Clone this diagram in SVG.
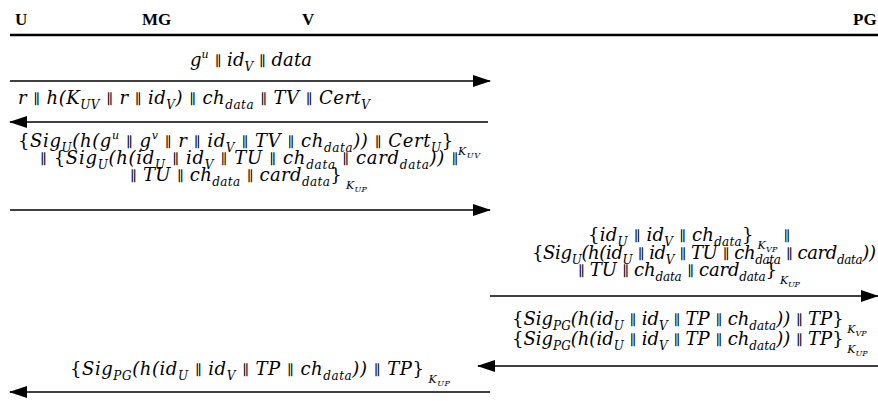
<svg xmlns="http://www.w3.org/2000/svg" width="878" height="401" viewBox="0 0 878 401">
<style>
.hd{font-family:"Liberation Serif","Times New Roman",serif;font-weight:bold;font-size:17px;fill:#000}
.m{font-family:"DejaVu Serif",serif;font-style:italic;font-size:18px;fill:#000}
.u{font-family:"DejaVu Serif",serif;font-style:normal;font-size:14px}
.b{font-family:"DejaVu Serif",serif;font-style:normal}
.sb{font-size:12px;baseline-shift:-5px}
.sp{font-size:11px;baseline-shift:8px}
.kk{font-size:11px;baseline-shift:-8px}
.kd{font-size:8px;baseline-shift:-11px}
.ln{stroke:#000;stroke-width:1.6;fill:none}
</style>
<defs>
<marker id="ah" markerWidth="18" markerHeight="12" refX="17" refY="6" orient="auto" markerUnits="userSpaceOnUse">
<path d="M0,0 L18,6 L0,12 Z" fill="#000"/>
</marker>
</defs>
<g id="header">
<text class="hd" x="15" y="25">U</text>
<text class="hd" x="142" y="25">MG</text>
<text class="hd" x="302" y="25">V</text>
<text class="hd" x="853" y="25">PG</text>
<line x1="10" y1="35" x2="878" y2="35" stroke="#000" stroke-width="2.5"/>
</g>
<g id="connectors">
<line class="ln" x1="10" y1="81" x2="490" y2="81" marker-end="url(#ah)"/>
<line class="ln" x1="488" y1="122" x2="10" y2="122" marker-end="url(#ah)"/>
<line class="ln" x1="10" y1="210" x2="490" y2="210" marker-end="url(#ah)"/>
<line class="ln" x1="490" y1="296" x2="878" y2="296" marker-end="url(#ah)"/>
<line class="ln" x1="878" y1="366" x2="478" y2="366" marker-end="url(#ah)"/>
<line class="ln" x1="490" y1="392" x2="10" y2="392" marker-end="url(#ah)"/>
</g>
<g id="labels">
<text class="m" x="190" y="66" textLength="122" lengthAdjust="spacing">g<tspan class="sp">u</tspan> <tspan class="u">∥</tspan> id<tspan class="sb">V</tspan> <tspan class="u">∥</tspan> data</text>
<text class="m" x="18" y="104" textLength="352" lengthAdjust="spacing">r <tspan class="u">∥</tspan> h(K<tspan class="sb">UV</tspan> <tspan class="u">∥</tspan> r <tspan class="u">∥</tspan> id<tspan class="sb">V</tspan>) <tspan class="u">∥</tspan> ch<tspan class="sb">data</tspan> <tspan class="u">∥</tspan> TV <tspan class="u">∥</tspan> Cert<tspan class="sb">V</tspan></text>
<text class="m" x="18" y="147" textLength="462" lengthAdjust="spacing"><tspan class="b">{</tspan>Sig<tspan class="sb">U</tspan>(h(g<tspan class="sp">u</tspan> <tspan class="u">∥</tspan> g<tspan class="sp">v</tspan> <tspan class="u">∥</tspan> r <tspan class="u">∥</tspan> id<tspan class="sb">V</tspan> <tspan class="u">∥</tspan> TV <tspan class="u">∥</tspan> ch<tspan class="sb">data</tspan>)) <tspan class="u">∥</tspan> Cert<tspan class="sb">U</tspan><tspan class="b">}</tspan><tspan class="kk"> K</tspan><tspan class="kd">UV</tspan></text>
<text class="m" x="40" y="164" textLength="418" lengthAdjust="spacing"><tspan class="u">∥</tspan><tspan class="b"> {</tspan>Sig<tspan class="sb">U</tspan>(h(id<tspan class="sb">U</tspan> <tspan class="u">∥</tspan> id<tspan class="sb">V</tspan> <tspan class="u">∥</tspan> TU <tspan class="u">∥</tspan> ch<tspan class="sb">data</tspan> <tspan class="u">∥</tspan> card<tspan class="sb">data</tspan>)) <tspan class="u">∥</tspan></text>
<text class="m" x="130" y="181" textLength="237" lengthAdjust="spacing"><tspan class="u">∥</tspan> TU <tspan class="u">∥</tspan> ch<tspan class="sb">data</tspan> <tspan class="u">∥</tspan> card<tspan class="sb">data</tspan><tspan class="b">}</tspan><tspan class="kk"> K</tspan><tspan class="kd">UP</tspan></text>
<text class="m" x="588" y="241" textLength="202" lengthAdjust="spacing"><tspan class="b">{</tspan>id<tspan class="sb">U</tspan> <tspan class="u">∥</tspan> id<tspan class="sb">V</tspan> <tspan class="u">∥</tspan> ch<tspan class="sb">data</tspan><tspan class="b">}</tspan><tspan class="kk"> K</tspan><tspan class="kd">VP</tspan> <tspan class="u">∥</tspan></text>
<text class="m" x="532" y="259" textLength="344" lengthAdjust="spacing"><tspan class="b">{</tspan>Sig<tspan class="sb">U</tspan>(h(id<tspan class="sb">U</tspan> <tspan class="u">∥</tspan> id<tspan class="sb">V</tspan> <tspan class="u">∥</tspan> TU <tspan class="u">∥</tspan> ch<tspan class="sb">data</tspan> <tspan class="u">∥</tspan> card<tspan class="sb">data</tspan>))</text>
<text class="m" x="578" y="276" textLength="222" lengthAdjust="spacing"><tspan class="u">∥</tspan> TU <tspan class="u">∥</tspan> ch<tspan class="sb">data</tspan> <tspan class="u">∥</tspan> card<tspan class="sb">data</tspan><tspan class="b">}</tspan><tspan class="kk"> K</tspan><tspan class="kd">UP</tspan></text>
<text class="m" x="512" y="325"><tspan class="b">{</tspan>Sig<tspan class="sb">PG</tspan>(h(id<tspan class="sb">U</tspan> <tspan class="u">∥</tspan> id<tspan class="sb">V</tspan> <tspan class="u">∥</tspan> TP <tspan class="u">∥</tspan> ch<tspan class="sb">data</tspan>)) <tspan class="u">∥</tspan> TP<tspan class="b">}</tspan><tspan class="kk"> K</tspan><tspan class="kd">VP</tspan></text>
<text class="m" x="512" y="345"><tspan class="b">{</tspan>Sig<tspan class="sb">PG</tspan>(h(id<tspan class="sb">U</tspan> <tspan class="u">∥</tspan> id<tspan class="sb">V</tspan> <tspan class="u">∥</tspan> TP <tspan class="u">∥</tspan> ch<tspan class="sb">data</tspan>)) <tspan class="u">∥</tspan> TP<tspan class="b">}</tspan><tspan class="kk"> K</tspan><tspan class="kd">UP</tspan></text>
<text class="m" x="70" y="375" textLength="380" lengthAdjust="spacing"><tspan class="b">{</tspan>Sig<tspan class="sb">PG</tspan>(h(id<tspan class="sb">U</tspan> <tspan class="u">∥</tspan> id<tspan class="sb">V</tspan> <tspan class="u">∥</tspan> TP <tspan class="u">∥</tspan> ch<tspan class="sb">data</tspan>)) <tspan class="u">∥</tspan> TP<tspan class="b">}</tspan><tspan class="kk"> K</tspan><tspan class="kd">UP</tspan></text>
</g>
</svg>
